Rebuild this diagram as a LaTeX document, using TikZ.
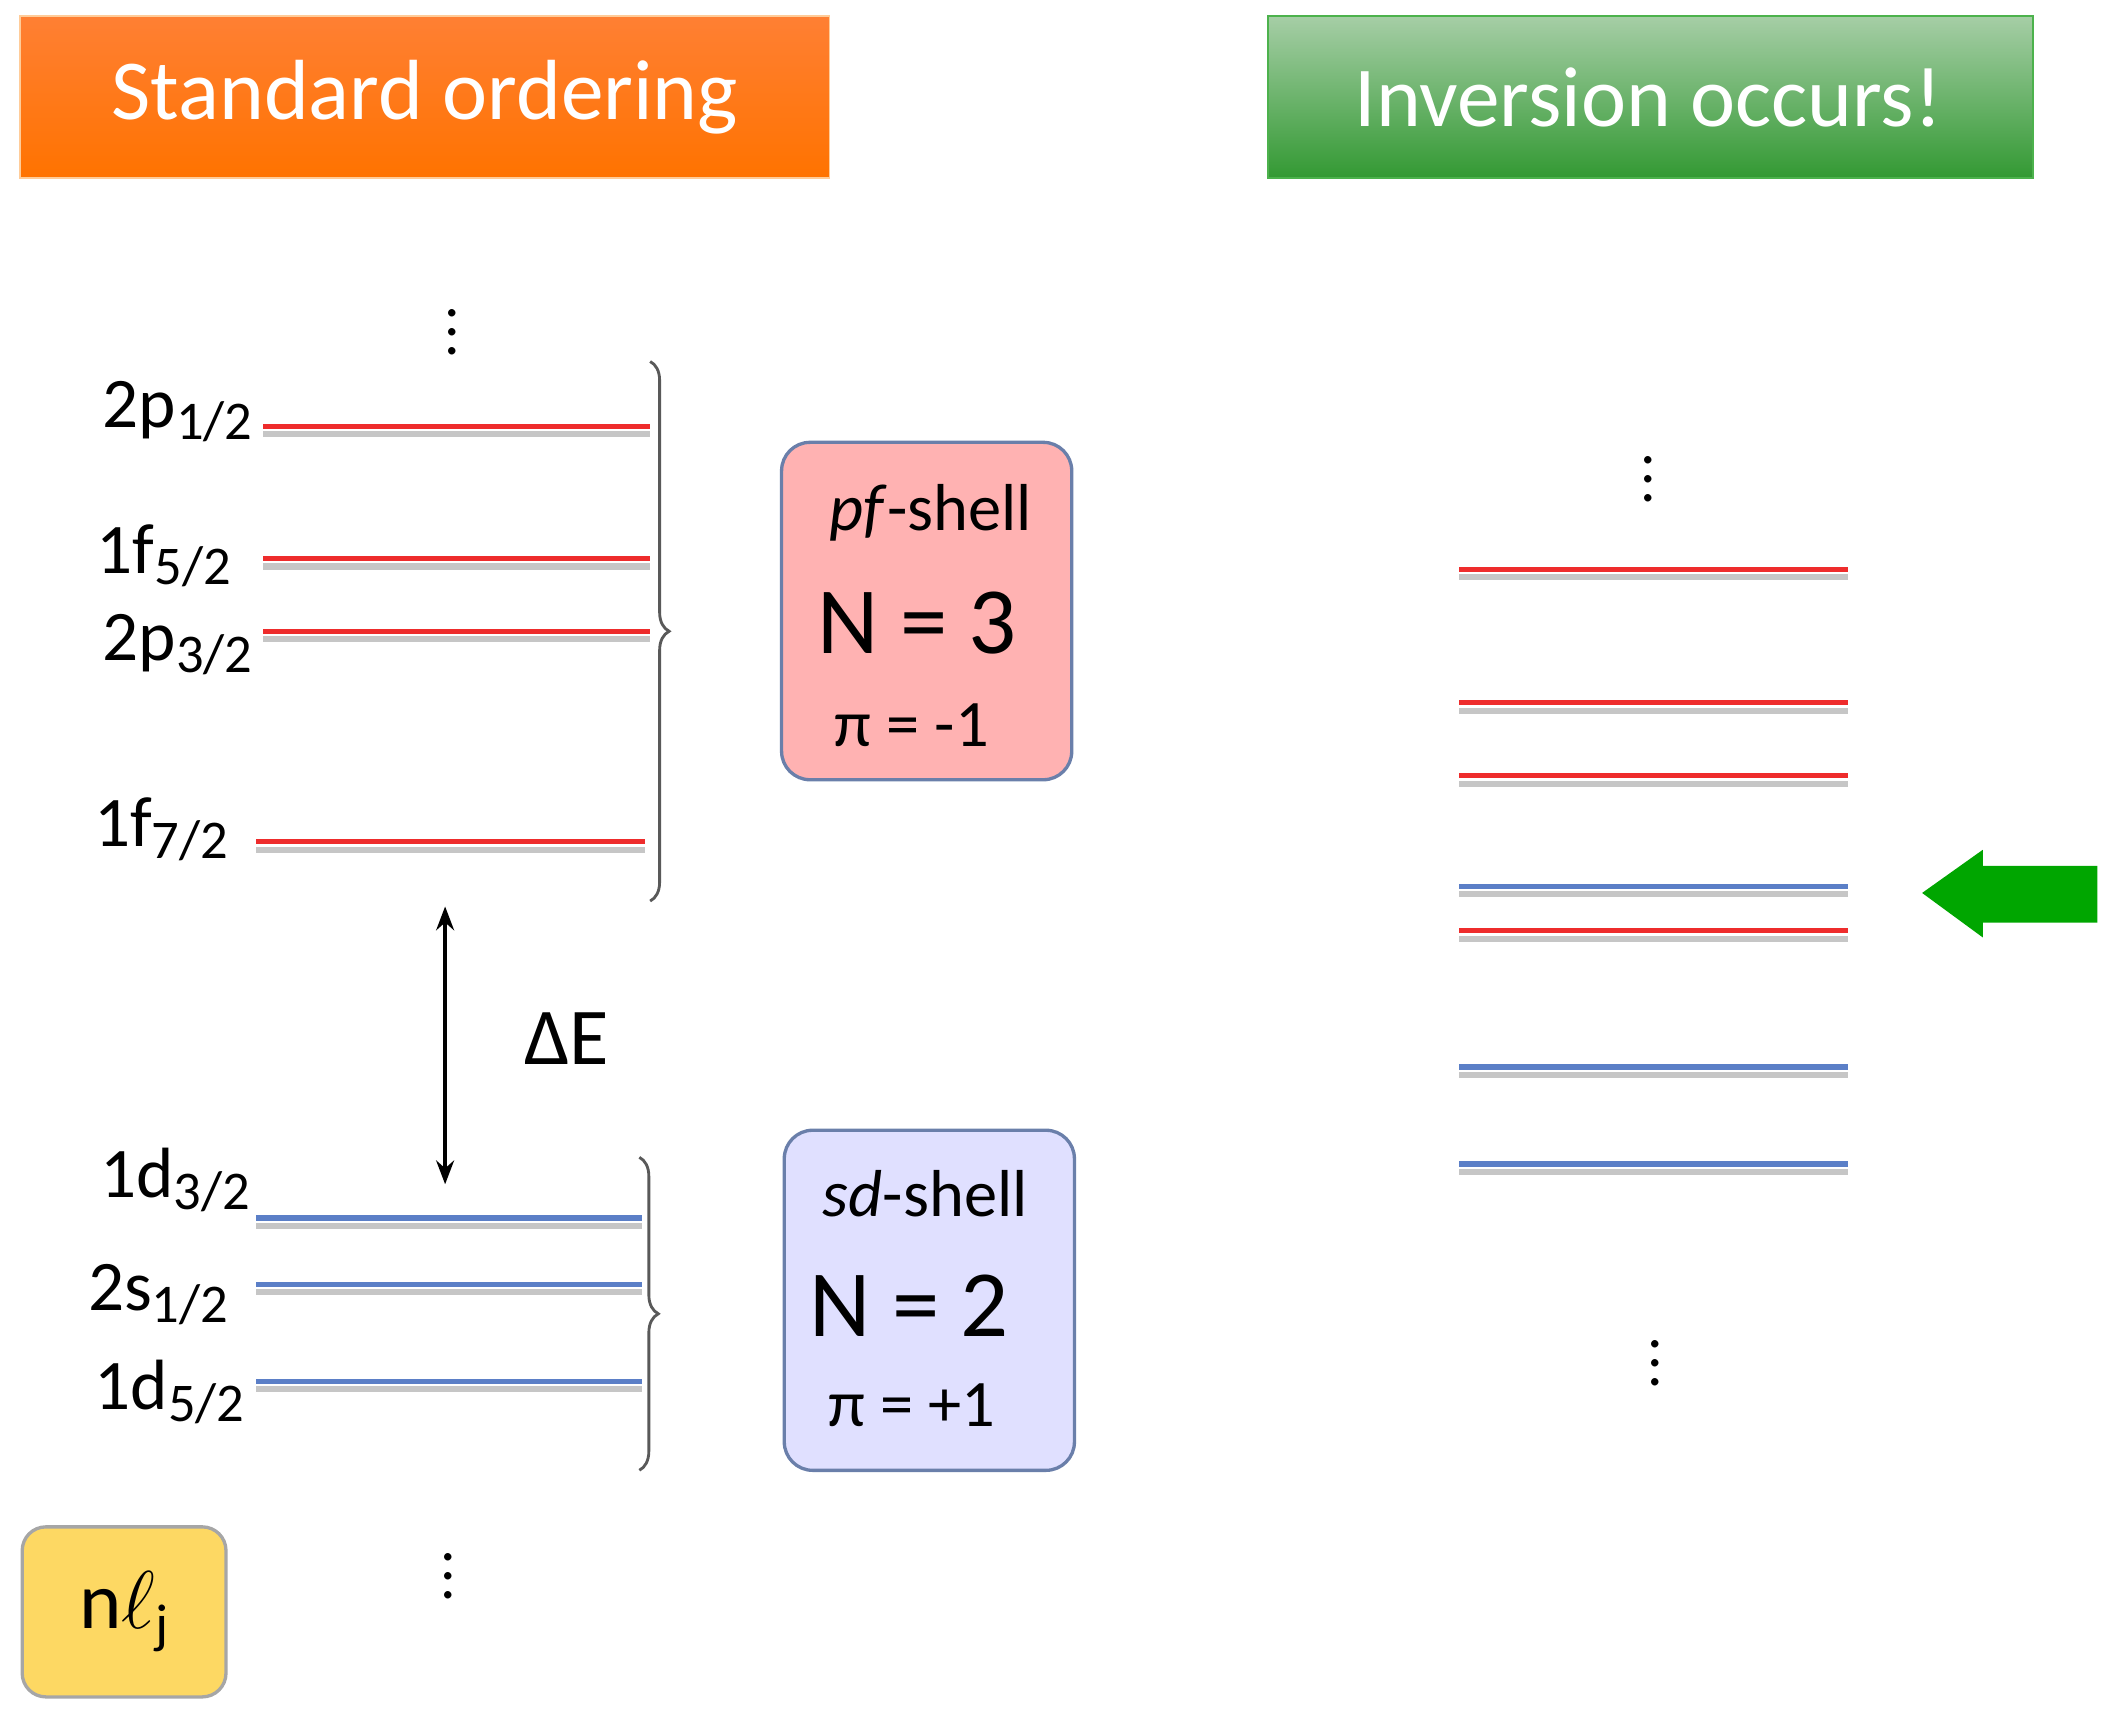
\documentclass[tikz,border=0pt]{standalone}
\usepackage{fontspec}
\setmainfont{Carlito}
\usetikzlibrary{decorations.pathreplacing,arrows.meta,shadows}
\definecolor{lred}{HTML}{EE2C2C}
\definecolor{lblue}{HTML}{5B7FC7}
\tikzset{
 lev/.style={line width=1.1pt},
 shad/.style={line width=1.3pt,gray!45},
 lab/.style={font=\fontsize{15}{15}\selectfont,anchor=east,inner sep=0},
 br/.style={decorate,decoration={brace,amplitude=4pt},line width=0.6pt,gray!70!black},
 shellbox/.style={rounded corners=6pt,line width=0.7pt,draw=lblue!60!gray,inner sep=0},
 dots/.style={font=\fontsize{13}{13}\selectfont},
 title/.style={text=white,font=\fontsize{18}{18}\selectfont,inner sep=0}
}
\newcommand{\sbs}[1]{\raisebox{-0.35ex}{\fontsize{11.5}{11.5}\selectfont #1}}
\begin{document}
\begin{tikzpicture}[x=0.01cm,y=-0.01cm]
\useasboundingbox (0,0) rectangle (1568,1278);
% title boxes
\shade[top color=orange!75!red!80, bottom color=orange!90!red, draw=orange!40] (15,12) rectangle (615,132);
\node[title] (t1) at (315,72) {Standard ordering};
\shade[top color=green!45!black!50!white!70, bottom color=green!50!black!80, draw=green!40!gray] (940,12) rectangle (1507,132);
\node[title] (t2) at (1222,72) {Inversion occurs!};
% left levels
\foreach \y/\a/\b/\c in {316/195/482/lred,414/195/482/lred,468/195/482/lred,624/190/478/lred,903/190/476/lblue,952/190/476/lblue,1024/190/476/lblue}{
 \draw[shad] (\a,\y+6) -- (\b,\y+6);
 \draw[lev,\c] (\a,\y) -- (\b,\y);}
\node[lab] (l1) at (188,305) {2p\sbs{1/2}};
\node[lab] (l2) at (172,412) {1f\sbs{5/2}};
\node[lab] (l3) at (188,478) {2p\sbs{3/2}};
\node[lab] (l4) at (170,615) {1f\sbs{7/2}};
\node[lab] (l5) at (186,875) {1d\sbs{3/2}};
\node[lab] (l6) at (170,960) {2s\sbs{1/2}};
\node[lab] (l7) at (182,1032) {1d\sbs{5/2}};
\node[dots] (d1) at (335,236) {$\vdots$};
\node[dots] (d2) at (332,1158) {$\vdots$};
\draw[br] (482,268) -- (482,668);
\draw[br] (474,858) -- (474,1090);
% arrow
\coordinate (ea) at (330,672); \coordinate (eb) at (330,878);
\draw[line width=1pt,{Stealth[length=5pt]}-{Stealth[length=5pt]}] (ea) -- (eb);
\node[font=\fontsize{17}{17}\selectfont] (de) at (420,770) {ΔE};
% shell boxes
\node[shellbox,fill=red!30,minimum width=2.15cm,minimum height=2.5cm] (pf) at (687,453) {};
\node[font=\fontsize{14}{14}\selectfont] (pft) at (690,380) {\textit{pf}-shell};
\node[font=\fontsize{20}{20}\selectfont] (pfn) at (680,462) {N = 3};
\node[font=\fontsize{14}{14}\selectfont] (pfp) at (676,538) {π = -1};
\node[shellbox,fill=blue!12,minimum width=2.15cm,minimum height=2.52cm] (sd) at (689,964) {};
\node[font=\fontsize{14}{14}\selectfont] (sdt) at (686,885) {\textit{sd}-shell};
\node[font=\fontsize{20}{20}\selectfont] (sdn) at (674,968) {N = 2};
\node[font=\fontsize{14}{14}\selectfont] (sdp) at (676,1042) {π = +1};
\node[rounded corners=5pt,fill=yellow!55!orange!60,draw=gray!70,line width=0.7pt,minimum width=1.51cm,minimum height=1.26cm,inner sep=0,font=\fontsize{17}{17}\selectfont] (nl) at (92,1195) {n$\ell$\sbs{j}};
% right levels
\foreach \y/\c in {422/lred,521/lred,575/lred,657/lblue,690/lred,791/lblue,863/lblue}{
 \draw[shad] (1082,\y+6) -- (1370,\y+6);
 \draw[lev,\c] (1082,\y) -- (1370,\y);}
\node[dots] (d3) at (1222,345) {$\vdots$};
\node[dots] (d4) at (1227,1000) {$\vdots$};
\fill[green!65!black] (1425,662) -- (1470,630) -- (1470,642) -- (1555,642) -- (1555,684) -- (1470,684) -- (1470,695) -- cycle;
\end{tikzpicture}
\end{document}
